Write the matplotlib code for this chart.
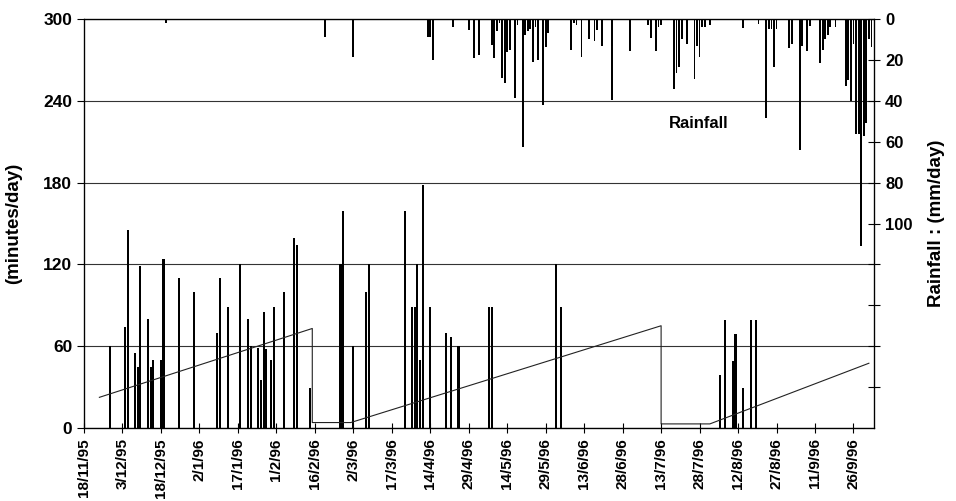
import matplotlib
matplotlib.use('Agg')
import matplotlib.pyplot as plt
import numpy as np

plt.rcParams['font.family'] = ['Liberation Sans', 'DejaVu Sans']
plt.rcParams['font.weight'] = 'bold'
plt.rcParams['axes.labelweight'] = 'bold'

# category axis: one row per day, a label every 15 rows
date_labels = ['18/11/95', '3/12/95', '18/12/95', '2/1/96', '17/1/96', '1/2/96',
               '16/2/96', '2/3/96', '17/3/96', '14/4/96', '29/4/96', '14/5/96',
               '29/5/96', '13/6/96', '28/6/96', '13/7/96', '28/7/96', '12/8/96',
               '27/8/96', '11/9/96', '26/9/96']
tick_rows = np.arange(0, 301, 15)

# irrigation (minutes/day)
irr_rows = [10, 16, 17, 20, 21, 22, 25, 26, 27, 30, 31, 37, 43, 52, 53, 56, 61, 64,
            65, 68, 69, 70, 71, 73, 74, 78, 82, 83, 88, 100, 101, 105, 110, 111, 125,
            128, 129, 130, 131, 132, 135, 141, 143, 146, 158, 159, 184, 186, 248, 250,
            253, 254, 257, 260, 262]
irr_mins = [60, 74, 145, 55, 45, 119, 80, 45, 50, 50, 124, 110, 100, 70, 110, 89, 120, 80,
            60, 59, 35, 85, 58, 50, 89, 100, 139, 134, 29, 120, 159, 60, 100, 120, 159,
            89, 89, 120, 50, 178, 89, 70, 67, 60, 89, 89, 120, 89, 39, 79,
            49, 69, 29, 79, 79]

# rainfall (mm/day), hanging from the top
rain_rows = [32, 94, 105, 134, 135, 136, 144, 150, 152, 154, 159, 160, 161, 162, 163,
             164, 165, 166, 168, 169, 171, 172, 173, 174, 175, 176, 177, 179, 180, 181,
             190, 191, 192, 194, 197, 199, 200, 202, 206, 213, 220, 221, 223, 224, 225,
             230, 231, 232, 233, 235, 238, 239, 240, 241, 242, 244, 257, 263, 266, 267,
             268, 269, 270, 275, 276, 279, 280, 282, 283, 287, 288, 289, 290, 291, 293,
             297, 298, 299, 300, 301, 302, 303, 304, 305, 306, 307]
rain_mm = [2, 8.6, 18.7, 9, 9, 20, 4, 5.5, 19, 17.6, 12.7, 19, 6, 2, 29,
           31.5, 16, 15, 38.8, 3, 62.4, 8, 6, 5, 21, 4, 20, 42, 13.5, 7,
           15, 2, 3, 18.4, 10, 11, 5.5, 13, 39.6, 15.5, 3, 9.5, 15.5, 4, 3,
           34, 26.6, 23.5, 10, 12, 29.3, 13, 18.4, 4, 4, 3, 4.5, 2.5, 48.6, 5,
           5, 23.3, 5, 14.3, 12, 64, 13, 15.6, 3.5, 21.7, 15, 10, 8, 4, 4,
           33, 30, 40, 12, 56, 56, 111, 57, 51, 10, 13.5]

# saw-tooth line
saw_rows = [6, 89, 89, 104, 225, 225, 244, 306]
saw_vals = [22.5, 73, 4, 4, 75, 3, 3, 47.5]

fig = plt.figure(figsize=(9.56, 5.01), dpi=100)
ax = fig.add_axes([84/956, 73/501, 790/956, 409/501])

ax.bar(irr_rows, irr_mins, width=0.8, color='black', zorder=3)
ax.plot(saw_rows, saw_vals, color='#222222', lw=0.8, zorder=4)

ax.set_xlim(0, 308)
ax.set_ylim(0, 300)
ax.set_yticks(np.arange(0, 301, 60))
ax.yaxis.grid(True, color='#333333', lw=0.8)
ax.set_axisbelow(True)
ax.set_xticks(tick_rows)
ax.set_xticklabels(date_labels, rotation=90, fontsize=11)
ax.tick_params(axis='x', direction='inout', length=7, width=0.8, pad=4)
ax.tick_params(axis='y', direction='out', length=5, width=0.8, labelsize=12.5)
ax.set_ylabel('(minutes/day)', fontsize=13.5)
ax.yaxis.set_label_coords(-0.078, 0.5)
for s in ax.spines.values():
    s.set_linewidth(0.9)

ax2 = ax.twinx()
ax2.bar(rain_rows, rain_mm, width=0.7, color='black')
ax2.set_ylim(200, 0)
ax2.set_yticks(np.arange(0, 181, 20))
ax2.set_yticklabels(['0', '20', '40', '60', '80', '100', '', '', '', ''])
ax2.tick_params(axis='y', direction='inout', length=8, width=0.8, labelsize=12, pad=4)
ax2.set_ylabel('Rainfall : (mm/day)', fontsize=13.5)
ax2.yaxis.set_label_coords(1.068, 0.5)
ax2.text(239.5, 51, 'Rainfall', ha='center', va='center', fontsize=12)

fig.savefig('out.png', dpi=100)
